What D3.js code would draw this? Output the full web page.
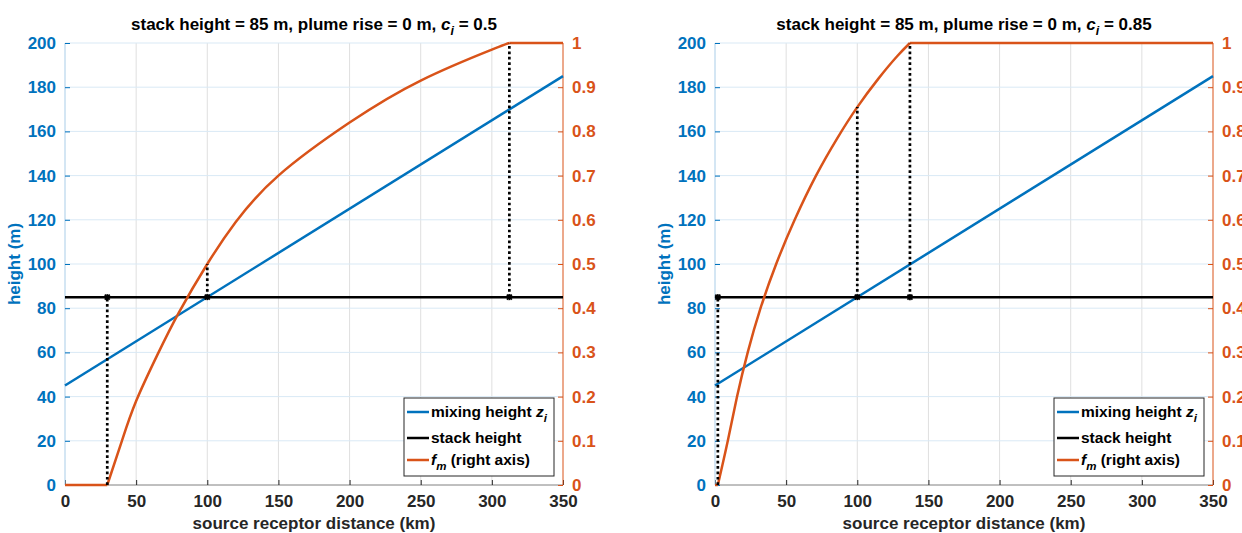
<!DOCTYPE html>
<html><head><meta charset="utf-8">
<script src="https://cdn.jsdelivr.net/npm/d3@7"></script>
<style>
body{margin:0;background:#fff;}
svg text{font-family:"Liberation Sans",Arial,Helvetica,sans-serif;font-weight:bold;}
</style></head>
<body><svg id="c" width="1242" height="533"></svg>
<script>
// ---------- data ----------
const xTicks = [0, 50, 100, 150, 200, 250, 300, 350];
const leftTicks = [0, 20, 40, 60, 80, 100, 120, 140, 160, 180, 200];
const rightTicks = [0, 0.1, 0.2, 0.3, 0.4, 0.5, 0.6, 0.7, 0.8, 0.9, 1];
const ciLabels = ["0.5", "0.85"];

const mixDist = [0, 350];
const mixHeight = [45, 185];
const stackDist = [0, 350];
const stackHeight = [85, 85];

// f_m (right axis), panel 1 (c_i = 0.5)
const fmDist1 = [0, 29.7, 40, 50, 65, 80, 100, 120, 150, 200, 250, 300, 312.3, 350];
const fmVal1  = [0, 0, 0.1, 0.19, 0.295, 0.39, 0.5, 0.595, 0.7, 0.82, 0.915, 0.985, 1, 1];
// f_m (right axis), panel 2 (c_i = 0.85)
const fmDist2 = [0, 2, 9, 15.5, 23, 32, 43, 56, 71, 86, 100, 115, 128, 137, 350];
const fmVal2  = [0, 0, 0.1, 0.2, 0.3, 0.4, 0.5, 0.6, 0.7, 0.785, 0.855, 0.92, 0.97, 1, 1];

// dotted guide lines: distance, bottom height, top height (left-axis units)
const guideDist1 = [29.7, 100, 312.3];
const guideLow1  = [0, 85, 85];
const guideHigh1 = [85, 100, 200];
const guideDist2 = [2, 100, 137];
const guideLow2  = [0, 85, 85];
const guideHigh2 = [85, 171, 200];

const panels = [
  {x0: 65, ci: ciLabels[0], fmD: fmDist1, fmV: fmVal1, gD: guideDist1, gL: guideLow1, gH: guideHigh1},
  {x0: 715, ci: ciLabels[1], fmD: fmDist2, fmV: fmVal2, gD: guideDist2, gL: guideLow2, gH: guideHigh2}
];

const BLUE = "#0072BD", ORANGE = "#D95319", DARK = "#262626";
const W = 498, yTop = 43, yBot = 485;
const svg = d3.select("#c");

panels.forEach(p => {
  const g = svg.append("g");
  const x = d3.scaleLinear().domain([0, 350]).range([p.x0, p.x0 + W]);
  const yL = d3.scaleLinear().domain([0, 200]).range([yBot, yTop]);
  const yR = d3.scaleLinear().domain([0, 1]).range([yBot, yTop]);

  // grid
  g.append("g").selectAll("line").data(xTicks.slice(1, -1)).join("line")
    .attr("x1", d => x(d)).attr("x2", d => x(d)).attr("y1", yTop).attr("y2", yBot)
    .attr("stroke", "#dfdfdf").attr("stroke-width", 1);
  g.append("g").selectAll("line").data(leftTicks.slice(1)).join("line")
    .attr("x1", p.x0).attr("x2", p.x0 + W).attr("y1", d => yL(d)).attr("y2", d => yL(d))
    .attr("stroke", "#d9e9f5").attr("stroke-width", 1);

  // axes
  const xAxis = d3.axisBottom(x).tickValues(xTicks).tickSize(-5).tickPadding(10).tickFormat(d3.format("d"));
  const ax = g.append("g").attr("transform", `translate(0,${yBot})`).call(xAxis);
  ax.select(".domain").attr("stroke", "#808080").attr("d", `M${p.x0},0H${p.x0 + W}`);
  ax.selectAll(".tick line").attr("stroke", DARK);
  ax.selectAll("text").attr("fill", DARK).style("font-size", "17px").attr("dy", "0.68em");

  const lAxis = d3.axisLeft(yL).tickValues(leftTicks).tickSize(-5).tickPadding(9);
  const la = g.append("g").attr("transform", `translate(${p.x0},0)`).call(lAxis);
  la.select(".domain").attr("stroke", "#a9cde8").attr("d", `M0,${yTop}V${yBot}`);
  la.selectAll(".tick line").attr("stroke", BLUE);
  la.selectAll("text").attr("fill", BLUE).style("font-size", "17px");

  const rAxis = d3.axisRight(yR).tickValues(rightTicks).tickSize(-5).tickPadding(9).tickFormat(d => String(+d.toFixed(1)));
  const ra = g.append("g").attr("transform", `translate(${p.x0 + W},0)`).call(rAxis);
  ra.select(".domain").attr("stroke", ORANGE).attr("d", `M0,${yTop}V${yBot}`);
  ra.selectAll(".tick line").attr("stroke", ORANGE);
  ra.selectAll("text").attr("fill", ORANGE).style("font-size", "17px");

  // lines
  const lineL = d3.line().x(d => x(d[0])).y(d => yL(d[1]));
  g.append("path").datum(mixDist.map((d, i) => [d, mixHeight[i]]))
    .attr("d", lineL).attr("fill", "none").attr("stroke", BLUE).attr("stroke-width", 2.5);
  g.append("path").datum(stackDist.map((d, i) => [d, stackHeight[i]]))
    .attr("d", lineL).attr("fill", "none").attr("stroke", "#000").attr("stroke-width", 2.5);

  // f_m: flat parts linear, rising part smooth
  const pts = p.fmD.map((d, i) => [d, p.fmV[i]]);
  const rising = pts.slice(1, -1);
  const lineR = d3.line().x(d => x(d[0])).y(d => yR(d[1]));
  const lineRs = d3.line().x(d => x(d[0])).y(d => yR(d[1])).curve(d3.curveNatural);
  g.append("path").datum(pts.slice(0, 2)).attr("d", lineR).attr("fill", "none").attr("stroke", ORANGE).attr("stroke-width", 2.5);
  g.append("path").datum(rising).attr("d", lineRs).attr("fill", "none").attr("stroke", ORANGE).attr("stroke-width", 2.5);
  g.append("path").datum(pts.slice(-2)).attr("d", lineR).attr("fill", "none").attr("stroke", ORANGE).attr("stroke-width", 2.5);

  // dotted guides
  p.gD.forEach((d, i) => {
    g.append("line").attr("x1", x(d)).attr("x2", x(d)).attr("y1", yL(p.gL[i])).attr("y2", yL(p.gH[i]))
      .attr("stroke", "#000").attr("stroke-width", 2.7).attr("stroke-dasharray", "2.7,2.7");
    const mx = x(d), my = yL(85);
    const mk = g.append("g").attr("stroke", "#000").attr("stroke-width", 1.8);
    [[-3,0,3,0],[0,-3,0,3],[-2.5,-2.5,2.5,2.5],[-2.5,2.5,2.5,-2.5]].forEach(s =>
      mk.append("line").attr("x1", mx + s[0]).attr("y1", my + s[1]).attr("x2", mx + s[2]).attr("y2", my + s[3]));
  });

  // title
  const t = g.append("text").attr("x", p.x0 + W / 2).attr("y", 30).attr("text-anchor", "middle")
    .attr("fill", "#000").style("font-size", "17px");
  t.append("tspan").text("stack height = 85 m, plume rise = 0 m, ");
  t.append("tspan").style("font-style", "italic").text("c");
  t.append("tspan").style("font-style", "italic").style("font-size", "12.5px").attr("dy", 5).text("i");
  t.append("tspan").attr("dy", -5).text(" = " + p.ci);

  // axis labels
  g.append("text").attr("x", p.x0 + W / 2).attr("y", 529).attr("text-anchor", "middle")
    .attr("fill", DARK).style("font-size", "17px").text("source receptor distance (km)");
  g.append("text").attr("transform", `translate(${p.x0 - 45},${(yTop + yBot) / 2}) rotate(-90)`)
    .attr("text-anchor", "middle").attr("fill", BLUE).style("font-size", "17px").text("height (m)");

  // legend
  const lx = p.x0 + W - 159, ly = 398, lw = 150, lh = 78;
  const lg = g.append("g");
  lg.append("rect").attr("x", lx).attr("y", ly).attr("width", lw).attr("height", lh)
    .attr("fill", "#fff").attr("stroke", DARK).attr("stroke-width", 1);
  const items = [BLUE, "#000", ORANGE];
  const rows = [ly + 14, ly + 40, ly + 62];
  items.forEach((c, i) => {
    lg.append("line").attr("x1", lx + 3).attr("x2", lx + 25).attr("y1", rows[i]).attr("y2", rows[i])
      .attr("stroke", c).attr("stroke-width", 2.5);
  });
  const fs = "15.5px", fsSub = "11.5px";
  const t1 = lg.append("text").attr("x", lx + 27).attr("y", rows[0] + 5).attr("fill", "#000").style("font-size", fs);
  t1.append("tspan").text("mixing height ");
  t1.append("tspan").style("font-style", "italic").text("z");
  t1.append("tspan").style("font-style", "italic").style("font-size", fsSub).attr("dy", 5).text("i");
  lg.append("text").attr("x", lx + 27).attr("y", rows[1] + 5).attr("fill", "#000").style("font-size", fs).text("stack height");
  const t3 = lg.append("text").attr("x", lx + 27).attr("y", rows[2] + 5).attr("fill", "#000").style("font-size", fs);
  t3.append("tspan").style("font-style", "italic").text("f");
  t3.append("tspan").style("font-style", "italic").style("font-size", fsSub).attr("dy", 5).text("m");
  t3.append("tspan").attr("dy", -5).text(" (right axis)");
});
</script></body></html>
